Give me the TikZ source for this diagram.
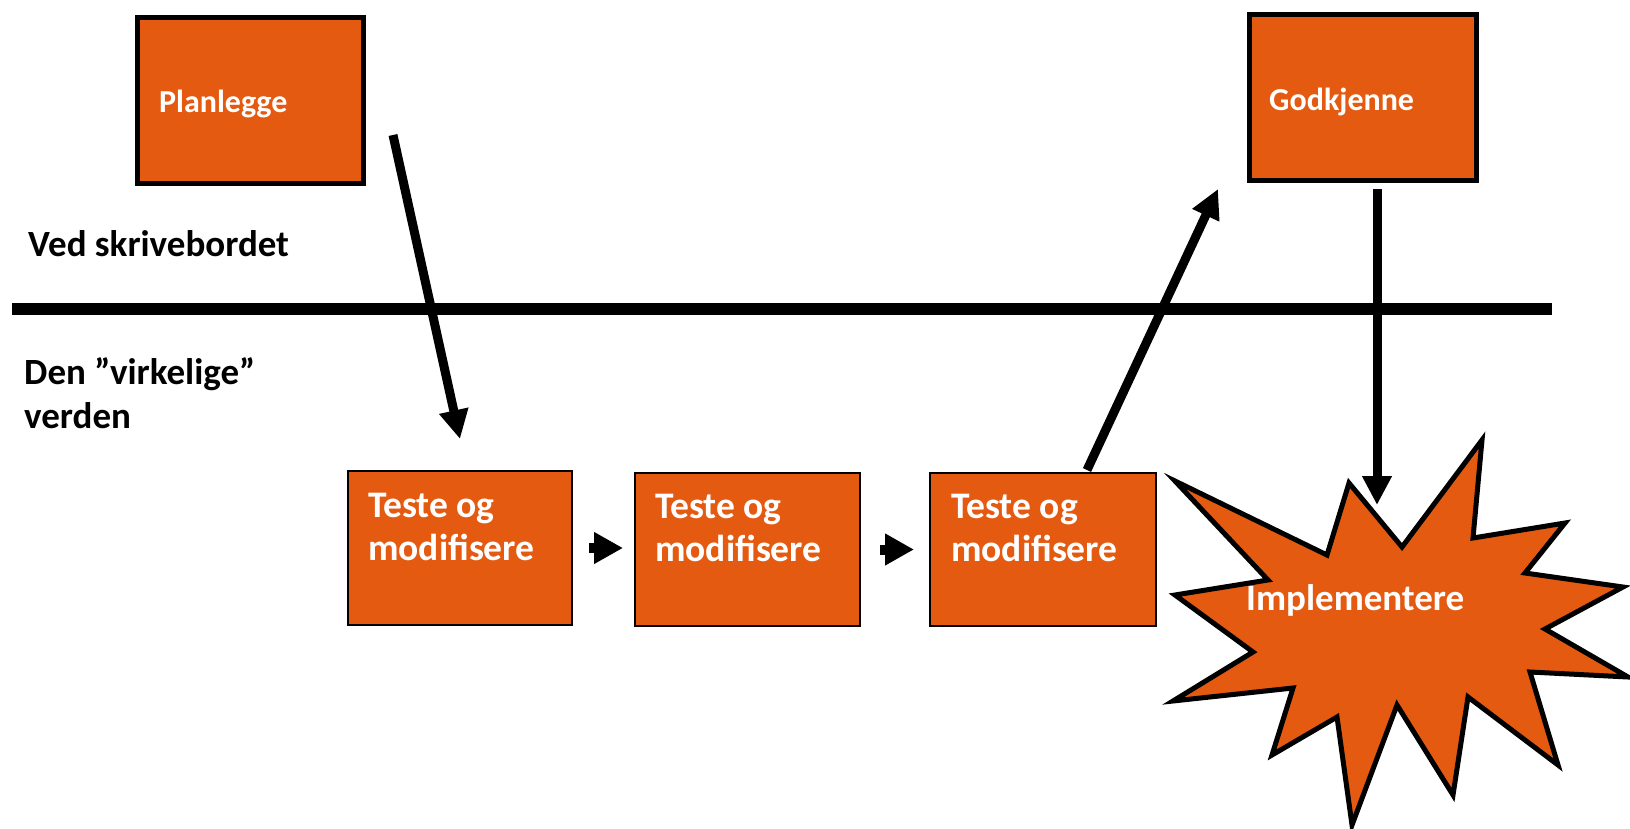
\documentclass[tikz,border=0pt]{standalone}
\usepackage{fontspec}
\setmainfont{Carlito}
\usetikzlibrary{arrows.meta}
\definecolor{boxorange}{RGB}{229,90,17}
\begin{document}
\begin{tikzpicture}[x=1pt,y=-1pt,
  box/.style={draw=black, fill=boxorange, inner sep=0pt, outer sep=0pt},
  thickbox/.style={box, line width=5pt},
  thinbox/.style={box, line width=2pt},
  boxtext/.style={font=\fontsize{37.5}{44}\selectfont\bfseries, text=white, anchor=base west, inner sep=0pt},
  toptext/.style={boxtext, font=\fontsize{32}{40}\selectfont\bfseries},
  sidetext/.style={font=\fontsize{37}{44}\selectfont\bfseries, text=black, anchor=base west, inner sep=0pt},
  flow/.style={line width=9pt, -{Triangle[length=29pt,width=28pt]}},
  hop/.style={line width=10pt, -{Triangle[length=29pt,width=30pt]}},
  burst/.style={draw=black, fill=boxorange, line width=5pt, line join=miter, miter limit=20}
]
\useasboundingbox (0,0) rectangle (1630,829);

% boundary between desk and real world
\coordinate (lineL) at (12,309);
\coordinate (lineR) at (1552,309);
\draw[line width=12pt] (lineL) -- (lineR);

\node[sidetext] (desk) at (28,256) {Ved skrivebordet};
\node[sidetext] (real1) at (24,384) {Den ”virkelige”};
\node[sidetext] (real2) at (24,428) {verden};

% top boxes
\node[thickbox, minimum width=226pt, minimum height=166pt] (plan) at (250,101) {};
\node[toptext] (planT) at (159,113) {Planlegge};
\node[thickbox, minimum width=227pt, minimum height=166pt] (godk) at (1363,97.5) {};
\node[toptext] (godkT) at (1269,111) {Godkjenne};

% test-and-modify boxes
\node[thinbox, minimum width=224pt, minimum height=154pt] (t1) at (460,548) {};
\node[boxtext] (t1a) at (368,517) {Teste og};
\node[boxtext] (t1b) at (368,560) {modifisere};
\node[thinbox, minimum width=225pt, minimum height=153pt] (t2) at (747.5,549.5) {};
\node[boxtext] (t2a) at (655,518) {Teste og};
\node[boxtext] (t2b) at (655,561) {modifisere};
\node[thinbox, minimum width=226pt, minimum height=153pt] (t3) at (1043,549.5) {};
\node[boxtext] (t3a) at (951,518) {Teste og};
\node[boxtext] (t3b) at (951,561) {modifisere};

% implementation burst
\draw[burst] (1175,481) -- (1327,555) -- (1349,483) -- (1402,547) -- (1482,440)
  -- (1473,538) -- (1565,523) -- (1525,573) -- (1623,587) -- (1545,629)
  -- (1628,677) -- (1530,672) -- (1558,765) -- (1468,697) -- (1453,795)
  -- (1397,705) -- (1352,825) -- (1337,717) -- (1272,755) -- (1293,688)
  -- (1173,701) -- (1253,652) -- (1175,595) -- (1268,580) -- cycle;
\node[boxtext, font=\fontsize{37}{44}\selectfont\bfseries] (impl) at (1246,610) {Implementere};

% flow arrows
\coordinate (planOut) at (393,135);
\coordinate (t1In) at (460,439);
\draw[flow] (planOut) -- (t1In);

\coordinate (t3Out) at (1087,470);
\coordinate (godkIn) at (1218,189);
\draw[flow] (t3Out) -- (godkIn);

\coordinate (godkOut) at (1377,189);
\coordinate (implIn) at (1377,505);
\draw[flow] (godkOut) -- (implIn);

\draw[hop] ([xshift=17pt]t1.east) coordinate (h1s) -- ([xshift=-12pt]t2.west |- h1s) coordinate (h1e);
\draw[hop] ([xshift=20pt]t2.east) coordinate (h2s) -- ([xshift=-16pt]t3.west |- h2s) coordinate (h2e);
\end{tikzpicture}
\end{document}
